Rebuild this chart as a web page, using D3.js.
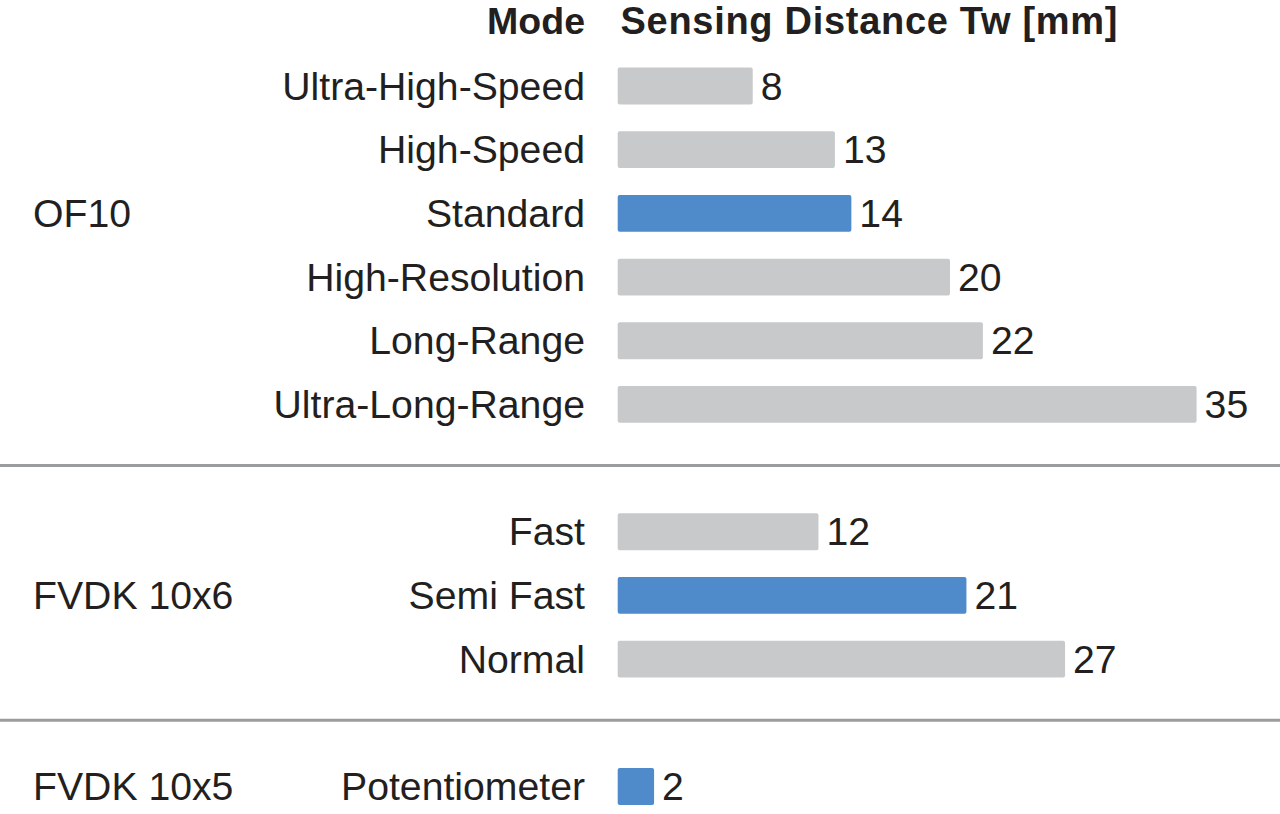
<!DOCTYPE html>
<html>
<head>
<meta charset="utf-8">
<script src="https://cdn.jsdelivr.net/npm/d3@7"></script>
<style>
  html, body { margin: 0; padding: 0; background: #fff; }
  text { font-family: "Liberation Sans", Arial, sans-serif; fill: #231f20; }
</style>
</head>
<body>
<div id="chart"></div>
<script>
var svgWidth = 1280;
var svgHeight = 814;

// data
var groups = ["OF10", "FVDK 10x6", "FVDK 10x5"];
var modes = [
  ["Ultra-High-Speed", "High-Speed", "Standard", "High-Resolution", "Long-Range", "Ultra-Long-Range"],
  ["Fast", "Semi Fast", "Normal"],
  ["Potentiometer"]
];
var distances = [
  [8, 13, 14, 20, 22, 35],
  [12, 21, 27],
  [2]
];
var highlighted = ["Standard", "Semi Fast", "Potentiometer"];
var headers = ["Mode", "Sensing Distance Tw [mm]"];

// flatten into rows, one empty slot between groups for the separator line
var rows = [];
var separators = [];
var slot = 0;
groups.forEach(function(g, gi) {
  modes[gi].forEach(function(m, mi) {
    rows.push({ group: g, mode: m, value: distances[gi][mi], slot: slot, hi: highlighted.indexOf(m) >= 0 });
    slot++;
  });
  if (gi < groups.length - 1) {
    separators.push(slot);
    slot++;
  }
});

var svg = d3.select("#chart")
  .append("svg")
  .attr("width", svgWidth)
  .attr("height", svgHeight);

var barStart = 617.7;
var barH = 36.8;
var fontSize = 39.2;

var x = d3.scaleLinear()
  .domain([0, 35])
  .range([621.2, 1196.6]);

var y = d3.scaleLinear()
  .domain([0, 11])
  .range([86, 786.5]);

// separators
svg.selectAll(".sep")
  .data(separators)
  .enter()
  .append("line")
  .attr("x1", 0)
  .attr("x2", svgWidth)
  .attr("y1", d => y(d) - 2.5)
  .attr("y2", d => y(d) - 2.5)
  .attr("stroke", "#9b9c9e")
  .attr("stroke-width", 3);

// headers
svg.append("text")
  .attr("x", 585)
  .attr("y", 33.5)
  .attr("text-anchor", "end")
  .attr("font-weight", "bold")
  .attr("font-size", 37.5)
  .text(headers[0]);

svg.append("text")
  .attr("x", 620.5)
  .attr("y", 33.5)
  .attr("font-weight", "bold")
  .attr("font-size", 38)
  .attr("textLength", 497)
  .attr("lengthAdjust", "spacing")
  .text(headers[1]);

// bars
svg.selectAll(".bar")
  .data(rows)
  .enter()
  .append("rect")
  .attr("x", barStart)
  .attr("y", d => y(d.slot) - barH / 2)
  .attr("width", d => x(d.value) - barStart)
  .attr("height", barH)
  .attr("rx", 2)
  .attr("fill", d => d.hi ? "#4f8bcb" : "#c8c9cb");

// value labels
svg.selectAll(".val")
  .data(rows)
  .enter()
  .append("text")
  .attr("x", d => x(d.value) + 8)
  .attr("y", d => y(d.slot))
  .attr("dy", "0.35em")
  .attr("font-size", fontSize)
  .text(d => d.value);

// mode labels
svg.selectAll(".mode")
  .data(rows)
  .enter()
  .append("text")
  .attr("x", 585)
  .attr("y", d => y(d.slot))
  .attr("dy", "0.35em")
  .attr("text-anchor", "end")
  .attr("font-size", fontSize)
  .text(d => d.mode);

// group labels, next to the highlighted mode
svg.selectAll(".grp")
  .data(rows.filter(d => d.hi))
  .enter()
  .append("text")
  .attr("x", 33)
  .attr("y", d => y(d.slot))
  .attr("dy", "0.35em")
  .attr("font-size", fontSize)
  .text(d => d.group);
</script>
</body>
</html>
